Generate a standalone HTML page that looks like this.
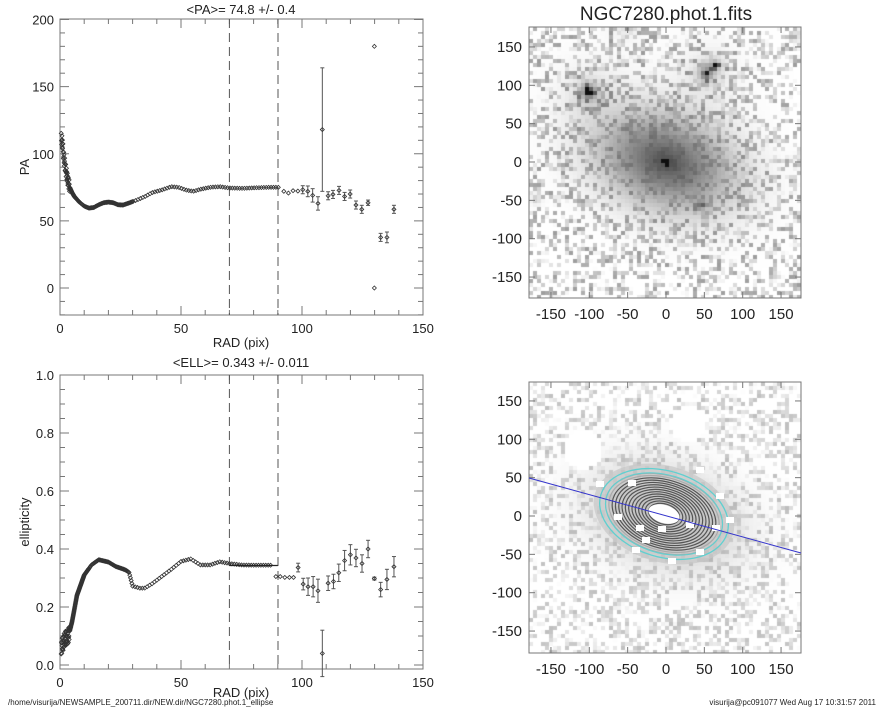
<!DOCTYPE html>
<html><head><meta charset="utf-8"><style>
html,body{margin:0;padding:0;background:#fff;width:885px;height:708px;overflow:hidden}
svg{position:absolute;left:0;top:0}
canvas{position:absolute}
text{font-family:"Liberation Sans",sans-serif;fill:#222}
</style></head><body>
<canvas id="c1" width="272" height="271" style="left:529px;top:27px"></canvas>
<canvas id="c2" width="272" height="271" style="left:529px;top:382px"></canvas>
<svg id="s" width="885" height="708" xmlns="http://www.w3.org/2000/svg"></svg>
<script>
var S=document.getElementById('s'),out='';
function L(x1,y1,x2,y2,c,w,d){out+='<line x1="'+x1+'" y1="'+y1+'" x2="'+x2+'" y2="'+y2+'" stroke="'+(c||'#777')+'" stroke-width="'+(w||1)+'"'+(d?' stroke-dasharray="'+d+'"':'')+'/>';}
function T(x,y,s,fs,a,extra){out+='<text x="'+x+'" y="'+y+'" font-size="'+fs+'" text-anchor="'+(a||'middle')+'" '+(extra||'')+'>'+s+'</text>';}
function D(x,y){out+='<path d="M'+(x-2)+' '+y+'L'+x+' '+(y-2)+'L'+(x+2)+' '+y+'L'+x+' '+(y+2)+'Z" fill="none" stroke="#333" stroke-width="0.8"/>';}
function interp(a,r){for(var i=0;i<a.length-1;i++){if(r<=a[i+1][0]){var t=(r-a[i][0])/(a[i+1][0]-a[i][0]);return a[i][1]+t*(a[i+1][1]-a[i][1]);}}return a[a.length-1][1];}
var X0=60,X1=423;function rx(r){return X0+r*(X1-X0)/150;}
var T1=19,B1=315;function py(v){return 288-v*1.3425;}
out+='<rect x="'+X0+'" y="'+T1+'" width="'+(X1-X0)+'" height="'+(B1-T1)+'" fill="none" stroke="#777"/>';
for(var r=0;r<=150;r+=10){var m=r%50==0?9:5;L(rx(r),B1,rx(r),B1-m);L(rx(r),T1,rx(r),T1+m);}
for(var v=-20;v<=200;v+=10){var m=v%50==0?9:5;L(X0,py(v),X0+m,py(v));L(X1,py(v),X1-m,py(v));}
[0,50,100,150].forEach(function(r){T(rx(r),333,r,13);});
[0,50,100,150,200].forEach(function(v){T(54,py(v)+5,v,13,'end');});
T(241,14,'&lt;PA&gt;=  74.8 +/-   0.4',13);
T(241,347,'RAD (pix)',13);
T(29,167,'PA',13,'middle','transform="rotate(-90 29 167)"');
L(229.4,T1,229.4,B1,'#555',1,'9,5');L(278,T1,278,B1,'#555',1,'9,5');
var pa=[[0.5,112],[1,108],[1.5,98],[2,92],[3,82],[4,75],[5,71],[6,68],[8,64],[10,61],[12,59.5],[14,60],[16,62],[18,63.5],[20,64],[22,63.5],[24,62],[26,61.8],[28,63],[31,65],[35,68],[38,71],[42,73],[46,75.5],[49,75],[52,73],[55,72],[58,73.5],[62,75],[66,75.5],[70,74.5],[75,74.2],[80,74.6],[86,75],[91,75]];
for(var r=0.5;r<=91;r+=(r<8?0.08:(r<30?0.3:1))){var v=interp(pa,r)+(r<4?(Math.sin(r*17)*4):0);D(rx(r),py(v));}
var pe=[[92.5,72,0],[94.4,70.7,0],[96.3,72.5,0],[98.3,72.2,0],[100.3,73.2,3],[102.4,72,4],[104.4,69,5],[106.6,63,5],[108.4,118,46],[110.8,68.7,3],[112.8,69.7,3],[115.3,72.7,3],[117.6,68.2,3],[119.9,70,3],[122.3,61.8,3],[124.7,58.6,3],[127.3,63.5,2],[129.9,180,0],[129.9,0,0],[132.5,37.7,3],[135.1,37.7,4],[138,58.6,3]];
pe.forEach(function(p){var x=rx(p[0]);if(p[2]){L(x,py(p[1]-p[2]),x,py(p[1]+p[2]),'#555');L(x-2,py(p[1]-p[2]),x+2,py(p[1]-p[2]),'#555');L(x-2,py(p[1]+p[2]),x+2,py(p[1]+p[2]),'#555');}D(x,py(p[1]));});
var T2=375,B2=669;function ey(v){return 665-v*290;}
out+='<rect x="'+X0+'" y="'+T2+'" width="'+(X1-X0)+'" height="'+(B2-T2)+'" fill="none" stroke="#777"/>';
for(var r=0;r<=150;r+=10){var m=r%50==0?9:5;L(rx(r),B2,rx(r),B2-m);L(rx(r),T2,rx(r),T2+m);}
for(var k=0;k<=20;k++){var v=k*0.05;var m=k%4==0?9:5;L(X0,ey(v),X0+m,ey(v));L(X1,ey(v),X1-m,ey(v));}
[0,50,100,150].forEach(function(r){T(rx(r),687,r,13);});
[0,0.2,0.4,0.6,0.8,1].forEach(function(v){T(54,ey(v)+5,v.toFixed(1),13,'end');});
T(241,367,'&lt;ELL&gt;= 0.343 +/-  0.011',13);
T(241,697,'RAD (pix)',13);
T(29,522,'ellipticity',13,'middle','transform="rotate(-90 29 522)"');
L(229.4,T2,229.4,B2,'#555',1,'9,5');L(278,T2,278,B2,'#555',1,'9,5');
var el=[[0.5,0.06],[2,0.09],[3.5,0.1],[5,0.15],[7,0.24],[10,0.31],[13,0.345],[16,0.363],[20,0.355],[23,0.34],[27,0.328],[28.5,0.32],[29.3,0.295],[30,0.272],[33,0.265],[35,0.265],[38,0.28],[42,0.305],[46,0.33],[50,0.357],[54,0.366],[58,0.345],[62,0.345],[66,0.356],[70,0.35],[75,0.345],[80,0.344],[88,0.344]];
for(var r=0.5;r<=88;r+=(r<12?0.08:(r<30?0.3:1))){var v=interp(el,r)+(r<4?Math.sin(r*23)*0.025:0);D(rx(r),ey(v));}
L(rx(70),ey(0.343),rx(90),ey(0.343),'#222',1.2);
var ee=[[89.2,0.305,0],[91,0.305,0],[92.9,0.302,0],[94.8,0.302,0],[96.5,0.302,0],[98.4,0.336,0.015],[100.5,0.279,0.02],[102.5,0.27,0.03],[104.6,0.27,0.035],[106.6,0.256,0.04],[108.4,0.04,0.08],[110.8,0.282,0.025],[113,0.288,0.025],[115.2,0.318,0.03],[117.6,0.36,0.035],[120,0.38,0.035],[122.3,0.369,0.03],[124.8,0.35,0.03],[127.3,0.4,0.03],[129.9,0.298,0.005],[132.5,0.26,0.025],[135.1,0.295,0.035],[138,0.339,0.035]];
ee.forEach(function(p){var x=rx(p[0]);if(p[2]){L(x,ey(p[1]-p[2]),x,ey(p[1]+p[2]),'#555');L(x-2,ey(p[1]-p[2]),x+2,ey(p[1]-p[2]),'#555');L(x-2,ey(p[1]+p[2]),x+2,ey(p[1]+p[2]),'#555');}D(x,ey(p[1]));});
function imgAxes(top,cy){var l=529,r=801,b=top+271;out+='<rect x="'+l+'" y="'+top+'" width="272" height="271" fill="none" stroke="#777"/>';
for(var v=-150;v<=150;v+=50){var x=666+v*0.767,y=cy-v*0.767;T(x,b+21,v,15);T(522,y+5,v,15,'end');L(x,b,x,b-6);L(x,top,x,top+6);L(l,y,l+6,y);L(r,y,r-6,y);}}
imgAxes(27,162);imgAxes(382,516);
T(666,20,'NGC7280.phot.1.fits',19);
var g='<g transform="translate(664 514) rotate(17)" fill="none">';
g+='<ellipse rx="72" ry="48" fill="#c8c8c8" stroke="none" opacity="0.7"/>';
for(var i=0;i<15;i++){var a=60-i*3.4,b=a*0.64;g+='<ellipse rx="'+a+'" ry="'+b+'" stroke="'+(i<2?'#aaa':'#555')+'" stroke-width="1.2"/>';}
g+='<ellipse rx="66" ry="43" stroke="#5fd0d0" stroke-width="1.3"/><ellipse rx="60" ry="39" stroke="#5fd0d0" stroke-width="1.1"/><ellipse rx="16" ry="9" fill="#fff" stroke="none"/></g>';
out+=g;
[[600,484],[632,483],[700,470],[716,528],[690,525],[618,517],[640,528],[662,529],[646,540],[636,550],[700,552],[730,520],[720,496],[672,561]].forEach(function(p){out+='<rect x="'+(p[0]-4)+'" y="'+(p[1]-3)+'" width="8" height="6" fill="#fff"/>';});
L(529,478,801,553,'#3333cc',1);
out+='<text x="8" y="705" font-size="8" text-anchor="start">/home/visurija/NEWSAMPLE_200711.dir/NEW.dir/NGC7280.phot.1_ellipse</text>';
out+='<text x="876" y="705" font-size="8" text-anchor="end">visurija@pc091077  Wed Aug 17 10:31:57 2011</text>';
S.innerHTML=out;
var seed=7;function rnd(){seed=(seed*16807)%2147483647;return seed/2147483647;}
function draw(id,gal,stars,bright,holes){var c=document.getElementById(id).getContext('2d');var cs=4;var ca=Math.cos(0.33),sa=Math.sin(0.33);
for(var j=0;j<68;j++)for(var i=0;i<68;i++){var x=i*cs+2-137,y=j*cs+2-135;var u=x*ca+y*sa,w=-x*sa+y*ca;var rr=Math.sqrt(u*u/(78*78)+w*w/(52*52));
var ge=Math.exp(-rr*rr*1.3);
var I=gal*ge+gal*0.25*Math.exp(-rr*6);if(rr<0.06)I+=1;
stars.forEach(function(s){var d=Math.hypot(x-s[0],y-s[1]);I+=s[2]*Math.exp(-d/s[3]);});
var n=rnd();I+=(n<0.55?0:(n-0.55)*bright)*(1-0.92*ge);
var hole=false;holes.forEach(function(h){if(Math.hypot(x-h[0],y-h[1])<h[2])hole=true;});
var gv=Math.round(255-Math.min(I,1)*240);if(hole)gv=255;if(gv<15)gv=15;c.fillStyle='rgb('+gv+','+gv+','+gv+')';c.fillRect(i*cs,j*cs,cs,cs);}}
draw('c1',0.62,[[-77,-70,1.2,4],[-77,-70,0.18,18],[40,-88,0.9,4],[40,-88,0.15,20],[49,-97,0.6,4],[35,43,0.6,3],[-40,-140,0.3,8],[-130,37,0.4,3],[135,-1,0.4,3]],0.9,[]);
draw('c2',0.32,[],0.6,[[-83,-68,20],[22,-93,18]]);
</script>
</body></html>
